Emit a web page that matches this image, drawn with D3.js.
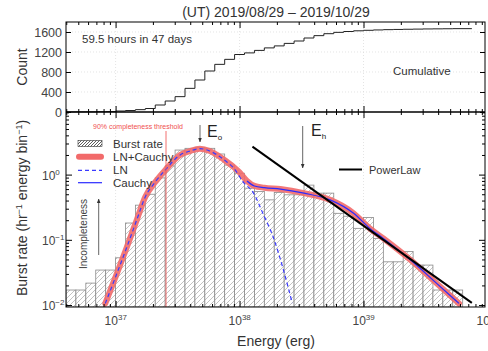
<!DOCTYPE html>
<html>
<head>
<meta charset="utf-8">
<script src="https://cdn.jsdelivr.net/npm/d3@7"></script>
<style>
  body { margin: 0; background: #fff; }
  svg { display: block; font-family: "Liberation Sans", Arial, sans-serif; }
</style>
</head>
<body>
<div id="chart"></div>
<script>
// Histogram bins, log10(E / erg), 0.08 dex wide
const binEdgesLog = [36.60, 36.68, 36.76, 36.84, 36.92, 37.00, 37.08, 37.16, 37.24, 37.32,
  37.40, 37.48, 37.56, 37.64, 37.72, 37.80, 37.88, 37.96, 38.04, 38.12,
  38.20, 38.28, 38.36, 38.44, 38.52, 38.60, 38.68, 38.76, 38.84, 38.92,
  39.00, 39.08, 39.16, 39.24, 39.32, 39.40, 39.48, 39.56, 39.64, 39.72, 39.80]

// Burst rate per bin (hr^-1 energy bin^-1)
const burstRate = [0.017, 0.017, 0.0217, 0.0344, 0.0344, 0.053, 0.181, 0.34, 0.50, 0.89,
  1.36, 2.38, 2.53, 2.62, 2.53, 2.07, 1.40, 1.05, 0.62, 0.55,
  0.41, 0.53, 0.49, 0.49, 0.69, 0.52, 0.52, 0.255, 0.23, 0.15,
  0.22, 0.105, 0.046, 0.046, 0.066, 0.041, 0.041, 0.017, 0.017, 0.017]

// Cumulative count level over each bin
const cumulative = [2, 3, 4, 6, 8, 20, 30, 47, 70, 140,
  220, 307, 473, 640, 820, 953, 1053, 1150, 1182, 1232,
  1282, 1322, 1372, 1420, 1480, 1527, 1566, 1593, 1610, 1624,
  1634, 1641, 1647, 1651, 1655, 1658, 1661, 1663, 1665, 1667]
const cumulativeEndLog = 39.874

// Fit curves [log10 E, rate]
const fitLNCauchy = [[36.917, 0.0106], [37.00, 0.027], [37.08, 0.068], [37.17, 0.20], [37.24, 0.458],
  [37.32, 0.77], [37.40, 1.17], [37.52, 2.0], [37.60, 2.30], [37.68, 2.50], [37.76, 2.30],
  [37.82, 2.0], [37.90, 1.56], [37.95, 1.32], [38.00, 1.08], [38.06, 0.80], [38.12, 0.67],
  [38.20, 0.63], [38.33, 0.60], [38.52, 0.52], [38.73, 0.41], [38.92, 0.255], [39.05, 0.15],
  [39.16, 0.105], [39.38, 0.049], [39.59, 0.0215], [39.77, 0.0106]]
const fitLN = [[36.917, 0.0106], [37.00, 0.027], [37.08, 0.068], [37.17, 0.20], [37.24, 0.458],
  [37.32, 0.77], [37.40, 1.17], [37.52, 2.0], [37.60, 2.30], [37.68, 2.50], [37.76, 2.30],
  [37.82, 2.0], [37.90, 1.55], [37.95, 1.28], [38.03, 0.77], [38.113, 0.52], [38.19, 0.25],
  [38.274, 0.107], [38.355, 0.034], [38.425, 0.0107]]
const cauchyStartLog = 38.04
const powerLaw = [[38.104, 2.68], [39.874, 0.0108]]

const xMajorTicks = [37, 38, 39, 40]
const yTopTicks = [0, 400, 800, 1200, 1600]
const yBottomTicks = [0, -1, -2]

const W = 488, H = 351
const left = 66, right = 485, top1 = 22, mid = 112, bottom = 307

const svg = d3.select("#chart").append("svg")
  .attr("width", W).attr("height", H)

const x = d3.scaleLog().domain([10 ** 36.6, 10 ** 39.98]).range([left, right])
const yTop = d3.scaleLinear().domain([0, 1800]).range([mid, top1])
const yBot = d3.scaleLog().domain([10 ** -2.03, 10 ** 0.96]).range([bottom, mid])

const defs = svg.append("defs")
defs.append("clipPath").attr("id", "clip-bot")
  .append("rect").attr("x", left).attr("y", mid).attr("width", right - left).attr("height", bottom - mid)

function hatch(id, size, color, width) {
  const p = defs.append("pattern").attr("id", id)
    .attr("patternUnits", "userSpaceOnUse").attr("width", size).attr("height", size)
  p.append("rect").attr("width", size).attr("height", size).attr("fill", "#fff")
  p.append("path")
    .attr("d", `M-1,1 L1,-1 M0,${size} L${size},0 M${size - 1},${size + 1} L${size + 1},${size - 1}`)
    .attr("stroke", color).attr("stroke-width", width)
}
hatch("hatch", 5, "#a8a8a8", 0.7)
hatch("hatch-dark", 3, "#333", 0.8)

const minorX = x.ticks().filter(d => Math.abs(Math.log10(d) - Math.round(Math.log10(d))) > 1e-6)
const majorX = xMajorTicks.map(d => 10 ** d).filter(d => d <= x.domain()[1] * 1.001)

// Grid lines
const grid = svg.append("g").attr("stroke", "#d8d8d8").attr("stroke-width", 0.7).attr("stroke-dasharray", "1,2")
majorX.forEach(d => {
  grid.append("line").attr("x1", x(d)).attr("x2", x(d)).attr("y1", top1).attr("y2", bottom)
})
yTopTicks.slice(1).forEach(d => {
  grid.append("line").attr("x1", left).attr("x2", right).attr("y1", yTop(d)).attr("y2", yTop(d))
})

// Histogram bars
const bars = svg.append("g").attr("clip-path", "url(#clip-bot)")
bars.selectAll("rect").data(burstRate).join("rect")
  .attr("x", (d, i) => x(10 ** binEdgesLog[i]))
  .attr("width", (d, i) => x(10 ** binEdgesLog[i + 1]) - x(10 ** binEdgesLog[i]))
  .attr("y", d => yBot(d))
  .attr("height", d => bottom - yBot(d))
  .attr("fill", "url(#hatch)")
  .attr("stroke", "#8a8a8a")
  .attr("stroke-width", 0.8)

// Cumulative step curve
const cumPts = cumulative.map((c, i) => [binEdgesLog[i], c])
cumPts.push([cumulativeEndLog, cumulative[cumulative.length - 1]])
svg.append("path").datum(cumPts)
  .attr("fill", "none").attr("stroke", "#222").attr("stroke-width", 1)
  .attr("d", d3.line().x(d => Math.max(left, x(10 ** d[0]))).y(d => yTop(d[1])).curve(d3.curveStepAfter))

// Fit curves
const curves = svg.append("g").attr("clip-path", "url(#clip-bot)")
const fitLine = d3.line().x(d => x(10 ** d[0])).y(d => yBot(d[1])).curve(d3.curveMonotoneX)

curves.append("path").datum(fitLNCauchy)
  .attr("fill", "none").attr("stroke", "#f26a6a").attr("stroke-opacity", 0.9)
  .attr("stroke-width", 6).attr("stroke-linecap", "round").attr("d", fitLine)
curves.append("path").datum(fitLNCauchy.filter(d => d[0] >= cauchyStartLog))
  .attr("fill", "none").attr("stroke", "#2a2aff").attr("stroke-width", 1.2).attr("d", fitLine)
curves.append("path").datum(fitLN)
  .attr("fill", "none").attr("stroke", "#3a3aff").attr("stroke-width", 1.2)
  .attr("stroke-dasharray", "4,3").attr("d", fitLine)
curves.append("path").datum(powerLaw)
  .attr("fill", "none").attr("stroke", "#000").attr("stroke-width", 2)
  .attr("d", d3.line().x(d => x(10 ** d[0])).y(d => yBot(d[1])))

// Completeness threshold
svg.append("line").attr("x1", 166).attr("x2", 166).attr("y1", 131).attr("y2", bottom)
  .attr("stroke", "#f06060").attr("stroke-width", 0.9)
svg.append("text").attr("x", 93).attr("y", 128.5).attr("font-size", 7).attr("fill", "#f05050")
  .text("90% completeness threshold")

// Frames
svg.append("rect").attr("x", left).attr("y", top1).attr("width", right - left).attr("height", bottom - top1)
  .attr("fill", "none").attr("stroke", "#000").attr("stroke-width", 1)
svg.append("line").attr("x1", left).attr("x2", right).attr("y1", mid).attr("y2", mid)
  .attr("stroke", "#000").attr("stroke-width", 1.6)

// Ticks (inward)
function xTicks(y, dir) {
  svg.append("g").attr("transform", `translate(0,${y})`)
    .call(d3.axisBottom(x).tickValues(minorX).tickSize(3 * dir).tickFormat(""))
    .call(g => g.select(".domain").remove())
  svg.append("g").attr("transform", `translate(0,${y})`)
    .call(d3.axisBottom(x).tickValues(majorX.filter(d => x(d) < right - 1)).tickSize(6 * dir).tickFormat(""))
    .call(g => g.select(".domain").remove())
}
xTicks(top1, 1)
xTicks(mid, -1)
xTicks(mid, 1)
xTicks(bottom, -1)

function yTicksAt(scale, xPos, dir, values, size) {
  svg.append("g").attr("transform", `translate(${xPos},0)`)
    .call(d3.axisLeft(scale).tickValues(values).tickSize(size * dir).tickFormat(""))
    .call(g => g.select(".domain").remove())
}
yTicksAt(yTop, left, -1, yTopTicks, 5)
yTicksAt(yTop, right, 1, yTopTicks, 5)
const minorY = yBot.ticks().filter(d => Math.abs(Math.log10(d) - Math.round(Math.log10(d))) > 1e-6)
const majorY = yBottomTicks.map(d => 10 ** d)
yTicksAt(yBot, left, -1, minorY, 3)
yTicksAt(yBot, left, -1, majorY, 6)
yTicksAt(yBot, right, 1, minorY, 3)
yTicksAt(yBot, right, 1, majorY, 6)

// Tick labels
const labelColor = "#444"
yTopTicks.forEach(d => {
  svg.append("text").attr("x", 62).attr("y", yTop(d) + 4.5).attr("text-anchor", "end")
    .attr("font-size", 12.5).attr("fill", labelColor).text(d)
})
yBottomTicks.forEach(d => {
  const t = svg.append("text").attr("x", 42).attr("y", yBot(10 ** d) + 5)
    .attr("font-size", 12).attr("fill", labelColor)
  t.append("tspan").text("10")
  t.append("tspan").attr("dy", -5).attr("font-size", 8).text(d === 0 ? "0" : "\u2212" + (-d))
})
xMajorTicks.forEach(d => {
  const t = svg.append("text").attr("x", x(10 ** d) - 11).attr("y", 325)
    .attr("font-size", 12).attr("fill", labelColor)
  t.append("tspan").text("10")
  t.append("tspan").attr("dy", -5).attr("font-size", 8).text(d)
})

// Axis titles
svg.append("text").attr("x", 276).attr("y", 17).attr("text-anchor", "middle")
  .attr("font-size", 14).attr("fill", "#333").text("(UT) 2019/08/29 \u2013 2019/10/29")
svg.append("text").attr("x", 276).attr("y", 346).attr("text-anchor", "middle")
  .attr("font-size", 14).attr("fill", "#333").text("Energy (erg)")
svg.append("text").attr("transform", "translate(27,67) rotate(-90)").attr("text-anchor", "middle")
  .attr("font-size", 14).attr("fill", "#333").text("Count")
const yl = svg.append("text").attr("transform", "translate(27,208) rotate(-90)").attr("text-anchor", "middle")
  .attr("font-size", 14).attr("fill", "#333")
yl.append("tspan").text("Burst rate (hr")
yl.append("tspan").attr("dy", -5).attr("font-size", 9).text("\u22121")
yl.append("tspan").attr("dy", 5).text(" energy bin")
yl.append("tspan").attr("dy", -5).attr("font-size", 9).text("\u22121")
yl.append("tspan").attr("dy", 5).text(")")

// Top panel annotations
svg.append("text").attr("x", 82).attr("y", 43).attr("font-size", 11.5).attr("fill", "#333")
  .text("59.5 hours in 47 days")
svg.append("text").attr("x", 393).attr("y", 75).attr("font-size", 11.5).attr("fill", "#333")
  .text("Cumulative")

// Legend
const lg = svg.append("g").attr("font-size", 11.5).attr("fill", "#333")
lg.append("rect").attr("x", 78).attr("y", 140.5).attr("width", 24).attr("height", 6)
  .attr("fill", "url(#hatch-dark)").attr("stroke", "#333").attr("stroke-width", 0.6)
lg.append("line").attr("x1", 79).attr("x2", 101).attr("y1", 156.7).attr("y2", 156.7)
  .attr("stroke", "#f26a6a").attr("stroke-width", 6).attr("stroke-linecap", "round")
lg.append("line").attr("x1", 78).attr("x2", 102).attr("y1", 170.3).attr("y2", 170.3)
  .attr("stroke", "#3a3aff").attr("stroke-width", 1.2).attr("stroke-dasharray", "4,3")
lg.append("line").attr("x1", 78).attr("x2", 102).attr("y1", 182.7).attr("y2", 182.7)
  .attr("stroke", "#2a2aff").attr("stroke-width", 1.2)
;["Burst rate", "LN+Cauchy", "LN", "Cauchy"].forEach((s, i) => {
  lg.append("text").attr("x", 113).attr("y", [148, 161, 174.3, 186.7][i]).text(s)
})
svg.append("line").attr("x1", 339).attr("x2", 362).attr("y1", 169.5).attr("y2", 169.5)
  .attr("stroke", "#000").attr("stroke-width", 2)
svg.append("text").attr("x", 369).attr("y", 173.5).attr("font-size", 11).attr("fill", "#333").text("PowerLaw")

// Arrows and energy markers
defs.append("marker").attr("id", "head").attr("viewBox", "0 0 10 10").attr("refX", 9).attr("refY", 5)
  .attr("markerWidth", 5).attr("markerHeight", 5).attr("orient", "auto")
  .append("path").attr("d", "M0,1 L10,5 L0,9 Z").attr("fill", "#333")
function arrow(x1, y1, x2, y2) {
  svg.append("line").attr("x1", x1).attr("y1", y1).attr("x2", x2).attr("y2", y2)
    .attr("stroke", "#555").attr("stroke-width", 0.9).attr("marker-end", "url(#head)")
}
arrow(200, 125, 200, 142)
arrow(302.7, 126, 302.7, 168)
arrow(98.7, 255, 98.7, 199)

function eLabel(xp, yp, sub) {
  const t = svg.append("text").attr("x", xp).attr("y", yp).attr("font-size", 16).attr("fill", "#222")
  t.append("tspan").text("E")
  t.append("tspan").attr("dy", 3).attr("font-size", 8).text(sub)
}
eLabel(207, 137, "o")
eLabel(311, 136, "h")

svg.append("text").attr("transform", "translate(87,234) rotate(-90)").attr("text-anchor", "middle")
  .attr("font-size", 10).attr("fill", "#444").text("Incompleteness")
</script>
</body>
</html>
